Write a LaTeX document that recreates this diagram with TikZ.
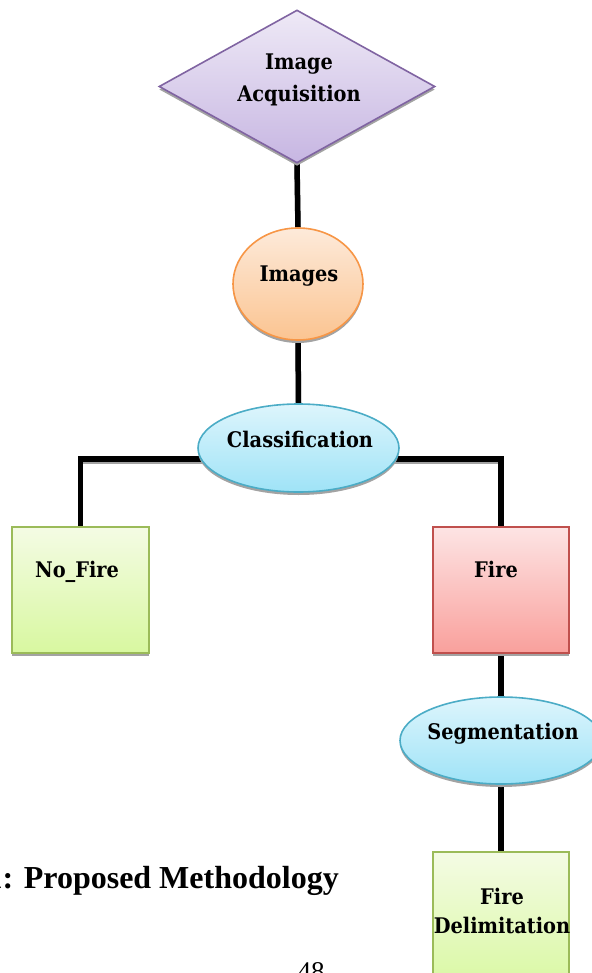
\documentclass[tikz,border=0pt]{standalone}
\usepackage{fontspec}
\setmainfont{Liberation Serif}
\newfontfamily\boxfont{DejaVu Serif Condensed}
\usetikzlibrary{shapes.geometric,shadows,backgrounds}

\definecolor{shadowgray}{HTML}{A3A3A3}
\definecolor{purpleTop}{HTML}{EEE9F6}
\definecolor{purpleBot}{HTML}{C7B6E2}
\definecolor{purpleLine}{HTML}{8064A2}
\definecolor{orangeTop}{HTML}{FDEADA}
\definecolor{orangeBot}{HTML}{FBC491}
\definecolor{orangeLine}{HTML}{F79646}
\definecolor{blueTop}{HTML}{DDF5FC}
\definecolor{blueBot}{HTML}{9FE3F7}
\definecolor{blueLine}{HTML}{4BACC6}
\definecolor{greenTop}{HTML}{F4FBE4}
\definecolor{greenBot}{HTML}{D8F8A0}
\definecolor{greenLine}{HTML}{9BBB59}
\definecolor{redTop}{HTML}{FDE4E4}
\definecolor{redBot}{HTML}{F9A09C}
\definecolor{redLine}{HTML}{C0504D}

\begin{document}
\begin{tikzpicture}[
  x=1pt, y=-1pt,
  shapebox/.style={draw, line width=1.6pt, inner sep=0pt,
    drop shadow={shadow xshift=0pt, shadow yshift=-3pt, fill=shadowgray, opacity=1}},
  purplebox/.style={shapebox, draw=purpleLine, top color=purpleTop, bottom color=purpleBot},
  orangebox/.style={shapebox, draw=orangeLine, top color=orangeTop, bottom color=orangeBot},
  bluebox/.style={shapebox, draw=blueLine, top color=blueTop, bottom color=blueBot},
  greenbox/.style={shapebox, draw=greenLine, top color=greenTop, bottom color=greenBot},
  redbox/.style={shapebox, draw=redLine, top color=redTop, bottom color=redBot},
  lbl/.style={font=\boxfont\bfseries\fontsize{21.5}{26}\selectfont, anchor=base, inner sep=0pt},
  link/.style={line width=5.5pt, line join=miter, black,
    preaction={draw=shadowgray, line width=5.5pt, transform canvas={yshift=-2.5pt}}}
]
\useasboundingbox (0,0) rectangle (591,973);

% process shapes
\node[purplebox, diamond, minimum width=276pt, minimum height=153pt] (acq) at (297,86.5) {};
\node[orangebox, ellipse, minimum width=130pt, minimum height=112pt] (img) at (298,284) {};
\node[bluebox, ellipse, minimum width=201pt, minimum height=88pt] (cls) at (298.5,448) {};
\node[greenbox, rectangle, minimum width=137pt, minimum height=126pt] (nofire) at (80.5,590) {};
\node[redbox, rectangle, minimum width=136pt, minimum height=126pt] (fire) at (501,590) {};
\node[bluebox, ellipse, minimum width=202pt, minimum height=87pt] (seg) at (501,740.5) {};
\node[greenbox, rectangle, minimum width=136pt, minimum height=140pt] (delim) at (501,922) {};

% labels
\node[lbl] (acqA) at (299,70) {Image};
\node[lbl] (acqB) at (299,102) {Acquisition};
\node[lbl] (imgL) at (299,282) {Images};
\node[lbl] (clsL) at (300,447) {Classification};
\node[lbl] (nofireL) at (77,577) {No\_Fire};
\node[lbl] (fireL) at (496,577) {Fire};
\node[lbl] (segL) at (503,739) {Segmentation};
\node[lbl] (delimA) at (502,904) {Fire};
\node[lbl] (delimB) at (502,933) {Delimitation};

% caption and page number
\node[anchor=base east, inner sep=0pt, font=\bfseries\fontsize{32}{38}\selectfont] (cap) at (339,888) {1: Proposed Methodology};
\node[anchor=base, inner sep=0pt, font=\fontsize{27}{32}\selectfont] (page) at (311,980) {48};

% connectors behind the shapes
\begin{pgfonlayer}{background}
\draw[link] (acq.south) -- (img.north);
\draw[link] (img.south) -- (cls.north);
\draw[link] ([yshift=-11pt]cls.center) -| (nofire.north);
\draw[link] ([yshift=-11pt]cls.center) -| (fire.north);
\draw[link] (fire.south) -- (seg.north);
\draw[link] (seg.south) -- (delim.north);
\end{pgfonlayer}
\end{tikzpicture}
\end{document}
